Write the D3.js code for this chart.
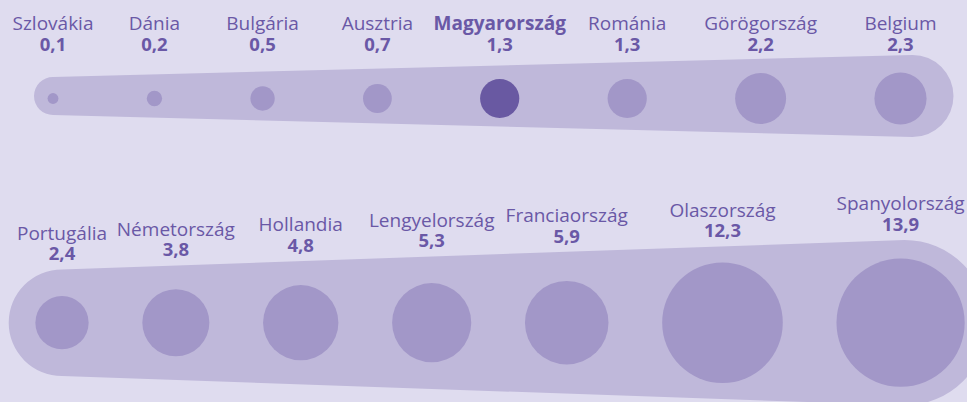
<!DOCTYPE html>
<html>
<head>
<meta charset="utf-8">
<script src="https://cdn.jsdelivr.net/npm/d3@7"></script>
<style>
  html, body { margin: 0; padding: 0; background: #dfdcef; }
  svg { display: block; font-family: "Open Sans", sans-serif; }
</style>
</head>
<body>
<div id="chart"></div>
<script>
// *Data: two rows of countries with their values
const topCountries = ["Szlovákia", "Dánia", "Bulgária", "Ausztria", "Magyarország", "Románia", "Görögország", "Belgium"];
const topValues = [0.1, 0.2, 0.5, 0.7, 1.3, 1.3, 2.2, 2.3];

const bottomCountries = ["Portugália", "Németország", "Hollandia", "Lengyelország", "Franciaország", "Olaszország", "Spanyolország"];
const bottomValues = [2.4, 3.8, 4.8, 5.3, 5.9, 12.3, 13.9];

const highlight = "Magyarország";

const width = 967,
  height = 402;

const colors = {
  bg: "#dfdcef",
  band: "#bfb8da",
  dot: "#a297c8",
  dotHi: "#6959a2",
  text: "#6a58a6",
};

const svg = d3
  .select("#chart")
  .append("svg")
  .attr("width", width)
  .attr("height", height);

svg.append("rect").attr("width", width).attr("height", height).attr("fill", colors.bg);

// *Circle area scale shared by both rows
const r = d3.scaleSqrt().domain([0, 13.9]).range([0, 64.1]);

const fmt = (v) => d3.format(".1f")(v).replace(".", ",");

// *Place circles next to each other with a fixed gap between edges
function layout(names, values, x0, gap) {
  const out = [];
  let x = x0;
  names.forEach((n, i) => {
    if (i > 0) x += r(values[i - 1]) + r(values[i]) + gap;
    out.push({ name: n, value: values[i], x: x });
  });
  return out;
}

// *Tapered band: two caps joined by straight edges
function bandPath(x1, r1, x2, r2, cy) {
  return (
    "M" + x1 + "," + (cy - r1) +
    "L" + x2 + "," + (cy - r2) +
    "A" + r2 + "," + r2 + " 0 0 1 " + x2 + "," + (cy + r2) +
    "L" + x1 + "," + (cy + r1) +
    "A" + r1 + "," + r1 + " 0 0 1 " + x1 + "," + (cy - r1) + "Z"
  );
}

function drawRow(opts) {
  const data = layout(opts.names, opts.values, opts.x0, opts.gap);
  const first = data[0],
    last = data[data.length - 1];
  const bx1 = first.x,
    bx2 = last.x + opts.capShift;

  const g = svg.append("g");

  g.append("path")
    .attr("d", bandPath(bx1, opts.r1, bx2, opts.r2, opts.bandY))
    .attr("fill", colors.band);

  g.selectAll("circle")
    .data(data)
    .enter()
    .append("circle")
    .attr("cx", (d) => d.x)
    .attr("cy", opts.cy)
    .attr("r", (d) => r(d.value))
    .attr("fill", (d) => (d.name === highlight ? colors.dotHi : colors.dot));

  // top edge of the band at x, used to put labels just above it
  const bandTop = (x) =>
    opts.bandY - opts.r1 - ((x - bx1) / (bx2 - bx1)) * (opts.r2 - opts.r1);

  const labels = g
    .selectAll("g.lbl")
    .data(data)
    .enter()
    .append("g")
    .attr("class", "lbl");

  labels
    .append("text")
    .attr("class", "name")
    .attr("text-anchor", "middle")
    .attr("fill", colors.text)
    .style("font-size", "19px")
    .style("font-weight", (d) => (d.name === highlight ? 700 : 400))
    .attr("y", (d) => (opts.follow ? bandTop(d.x) - 29.8 : opts.nameY))
    .text((d) => d.name);

  labels
    .append("text")
    .attr("class", "value")
    .attr("text-anchor", "middle")
    .attr("fill", colors.text)
    .style("font-size", "18.5px")
    .style("font-weight", 700)
    .attr("y", (d) => (opts.follow ? bandTop(d.x) - 9.2 : opts.nameY + 21))
    .text((d) => fmt(d.value));

  // *keep labels inside the left edge
  labels.each(function (d) {
    const w = d3.select(this).select("text.name").node().getComputedTextLength();
    const lx = Math.max(d.x, w / 2 + 7);
    d3.select(this).selectAll("text").attr("x", lx);
  });
}

drawRow({
  names: topCountries,
  values: topValues,
  x0: 53,
  gap: 88.3,
  cy: 98.5,
  bandY: 96,
  r1: 19,
  r2: 41,
  capShift: 12,
  nameY: 29.5,
  follow: false,
});

drawRow({
  names: bottomCountries,
  values: bottomValues,
  x0: 62,
  gap: 53.7,
  cy: 322.7,
  bandY: 322.7,
  r1: 53.3,
  r2: 82.7,
  capShift: 4,
  follow: true,
});
</script>
</body>
</html>
